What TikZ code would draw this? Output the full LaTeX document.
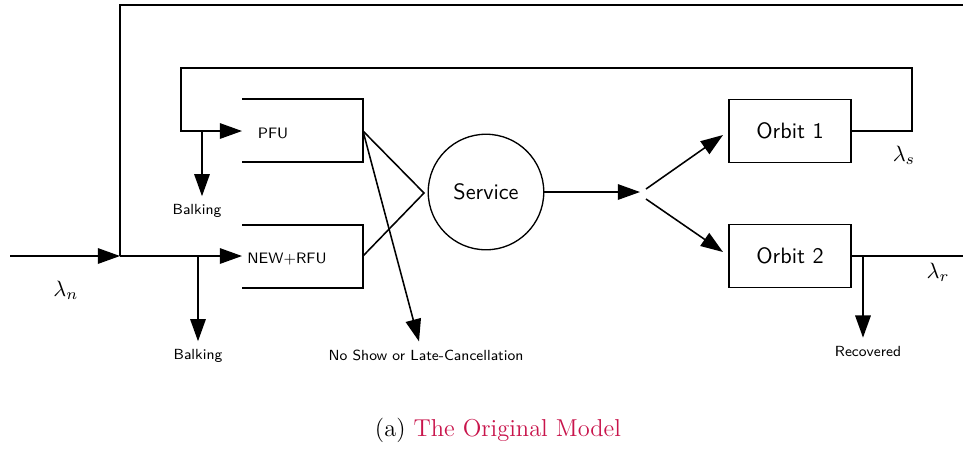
\documentclass[tikz,border=0pt]{standalone}
\usepackage{xcolor}
\usetikzlibrary{arrows.meta}
\definecolor{linkred}{RGB}{200,20,75}

\begin{document}
\begin{tikzpicture}[x=0.45pt,y=-0.45pt,
  line width=0.7pt,
  flow/.style={-{Triangle[length=10pt,width=7pt]}},
  queue node/.style={font=\sffamily\fontsize{6.8}{8}\selectfont},
  small label/.style={font=\sffamily\fontsize{6.6}{8}\selectfont},
  orbit node/.style={rectangle,draw,font=\sffamily,minimum width=55pt,minimum height=28.4pt},
  service node/.style={circle,draw,line width=0.6pt,font=\sffamily,minimum size=52pt,inner sep=0pt}]

  \useasboundingbox (0,0) rectangle (963,448);

  % open queue boxes
  \draw (242,99) -- (363,99) -- (363,162) -- (242,162);
  \draw (242,225) -- (363,225) -- (363,288) -- (242,288);
  \node[queue node] (pfu) at (273,133) {PFU};
  \node[queue node] (new) at (287,259) {NEW+RFU};

  \coordinate (src) at (10,256);
  \coordinate (split) at (120,256);
  \coordinate (pfuin) at (242,131);
  \coordinate (pfuout) at (363,131);
  \coordinate (newin) at (242,256);
  \coordinate (newout) at (363,256);
  \coordinate (join) at (424,193);
  \coordinate (fork) at (640,192);
  \coordinate (topend) at (963,5);
  \coordinate (outend) at (963,256);

  \node[service node] (srv) at (486,192) {Service};
  \node[orbit node] (o1) at (790,131) {Orbit 1\hspace{5pt}};
  \node[orbit node] (o2) at (790,256) {Orbit 2\hspace{5pt}};

  % labels
  \node[small label] (balk1) at (197,211) {Balking};
  \node[small label] (balk2) at (198,356) {Balking};
  \node[small label] (noshow) at (426,355) {No Show or Late-Cancellation};
  \node[small label] (rec) at (868,351) {Recovered};
  \node (ln) at (66,290) {$\lambda_n$};
  \node (ls) at (904,155) {$\lambda_s$};
  \node (lr) at (938,272) {$\lambda_r$};

  % arrivals
  \draw[flow] (src) -- (split);
  \draw[flow] (split) -- (newin);
  \draw (split) -- (120,5) -- (topend);
  \draw[flow] (198,256) -- (balk2.north);

  % retrials from orbit 1
  \draw[flow] (o1.east) -- (912,131) -- (912,68) -- (181,68) -- (181,131) -- (pfuin);
  \draw[flow] (202,131) -- (balk1.north -| 202,0);

  % to service
  \draw (pfuout) -- (join) -- (newout);
  \draw[flow] (pfuout) -- (noshow.north -| 419,0);
  \draw[flow] (srv.east) -- (fork);
  \draw[flow] (646,189) -- (723,135);
  \draw[flow] (646,199) -- (723,252);

  % out of orbit 2
  \draw (o2.east) -- (outend);
  \draw[flow] (863,256) -- (rec.north -| 863,0);

  \node[font=\fontsize{11}{13}\selectfont] (cap) at (498,430)
    {(a) \textcolor{linkred}{The Original Model}};
\end{tikzpicture}
\end{document}
